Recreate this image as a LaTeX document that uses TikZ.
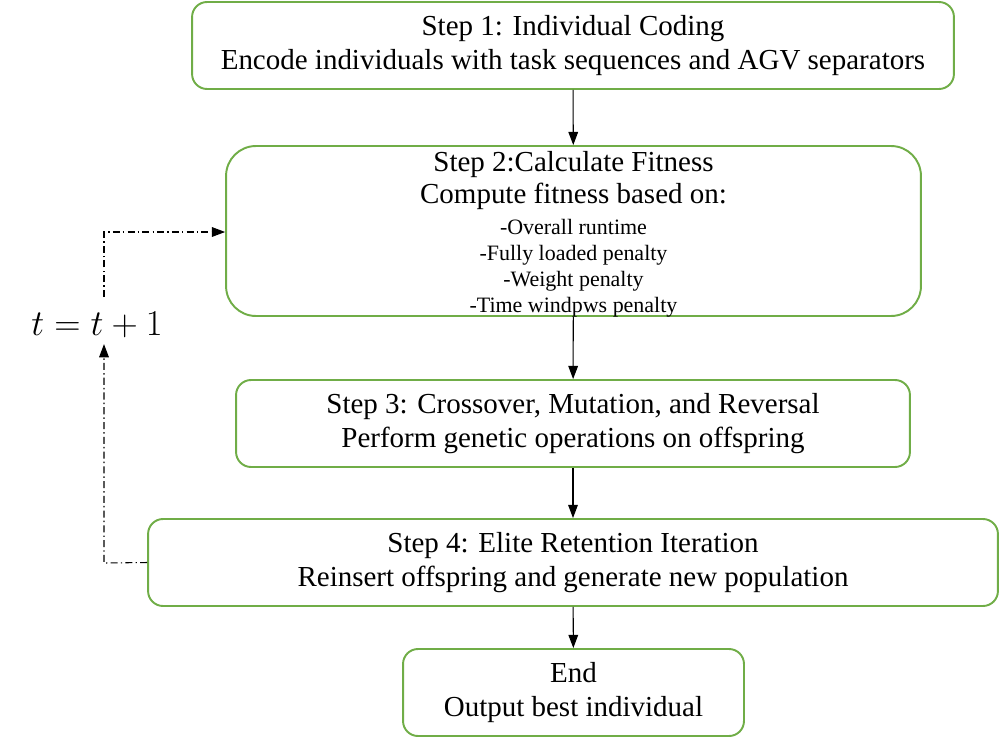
\documentclass[tikz,border=0pt]{standalone}
\usepackage{fontspec}
\setmainfont{Liberation Serif}
\usetikzlibrary{arrows.meta}

\definecolor{boxgreen}{RGB}{112,173,71}
\newcommand{\smalltxt}{\fontsize{12.5}{14.8}\selectfont}

\begin{document}
\begin{tikzpicture}[x=0.02cm,y=-0.02cm,
    stepbox/.style={draw=boxgreen, line width=1.1pt, rounded corners=8.5pt,
      align=center, inner sep=0pt, font=\fontsize{16.5}{19.3}\selectfont},
    flow/.style={-{Triangle[length=7.5pt,width=5.5pt]}, line width=0.6pt},
    loopline/.style={dash pattern=on 4pt off 1.8pt on 0.8pt off 1.8pt, line width=0.5pt}]

    \useasboundingbox (0,0) rectangle (1000,747);

    \node[stepbox, minimum width=15.24cm, minimum height=1.74cm] (s1) at (573,45.5)
      {Step 1: Individual Coding\\Encode individuals with task sequences and AGV separators};
    \node[stepbox, rounded corners=17pt, minimum width=13.9cm, minimum height=3.4cm] (s2) at (573.5,231) {};
    \node[align=center, inner sep=0pt, font=\fontsize{16.5}{19.3}\selectfont] (s2text) at (573.5,234)
      {Step 2:Calculate Fitness\\[-0.8pt]Compute fitness based on:\\[-2pt]
       \smalltxt -Overall runtime\\[-4.5pt]\smalltxt -Fully loaded penalty\\[-4.5pt]
       \smalltxt -Weight penalty\\[-4.5pt]\smalltxt -Time windpws penalty};
    \node[stepbox, minimum width=13.48cm, minimum height=1.74cm] (s3) at (573,423.5)
      {Step 3: Crossover, Mutation, and Reversal\\Perform genetic operations on offspring};
    \node[stepbox, minimum width=17cm, minimum height=1.74cm] (s4) at (573,562.5)
      {Step 4: Elite Retention Iteration\\Reinsert offspring and generate new population};
    \node[stepbox, minimum width=6.82cm, minimum height=1.74cm] (s5) at (573.5,692.5)
      {End\\Output best individual};

    \draw[flow] (s1) -- (s2);
    \draw[flow] (s2) -- (s3);
    \draw[flow] (s3) -- (s4);
    \draw[flow] (s4) -- (s5);

    % loop back
    \node (iter) at (97,325) {\fontsize{22}{26}\selectfont $t=t+1$};
    \coordinate (c1) at (104,563);
    \coordinate (c2) at (104,297);
    \coordinate (c3) at (104,232);
    \draw[loopline, flow] (s4.west) -- (c1) -- (c1 |- iter.south);
    \draw[loopline, flow] (c2) -- (c3) -- (s2.west |- c3);

\end{tikzpicture}
\end{document}
